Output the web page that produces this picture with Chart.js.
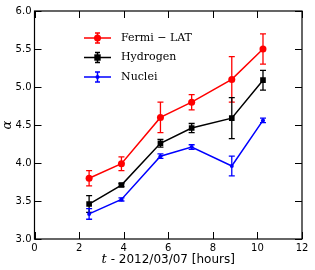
<!DOCTYPE html>
<html>
<head>
<meta charset="utf-8">
<script src="https://cdn.jsdelivr.net/npm/chart.js@4"></script>
<style>
  html, body { margin: 0; padding: 0; background: #fff; }
  #wrap { width: 315px; height: 270px; }
</style>
</head>
<body>
<div id="wrap"><canvas id="chart" width="315" height="270"></canvas></div>
<script>
const times = [2.45, 3.9, 5.65, 7.05, 8.85, 10.25];

const fermi = [3.80, 3.99, 4.60, 4.80, 5.10, 5.50];
const fermiErr = [0.10, 0.09, 0.20, 0.10, 0.30, 0.20];

const hydrogen = [3.46, 3.71, 4.26, 4.46, 4.59, 5.09];
const hydrogenErr = [0.11, 0.02, 0.05, 0.06, 0.27, 0.13];

const nuclei = [3.33, 3.52, 4.09, 4.21, 3.96, 4.56];
const nucleiErr = [0.07, 0.02, 0.03, 0.03, 0.13, 0.03];

const xTicks = [0, 2, 4, 6, 8, 10, 12];
const yTicks = [3.0, 3.5, 4.0, 4.5, 5.0, 5.5, 6.0];

function pts(ys) {
    return times.map((t, i) => ({ x: t, y: ys[i] }));
}

const series = [
    { label: 'Fermi \u2212 LAT', data: fermi, err: fermiErr, color: '#ff0000', style: 'circle', r: 3.5 },
    { label: 'Hydrogen', data: hydrogen, err: hydrogenErr, color: '#000000', style: 'rect', r: 4 },
    { label: 'Nuclei', data: nuclei, err: nucleiErr, color: '#0000ff', style: 'circle', r: 2 }
];

// error bars, inward ticks, legend and axis titles are drawn by hand
const extras = {
    id: 'extras',
    beforeDatasetsDraw(chart) {
        const ctx = chart.ctx;
        const xs = chart.scales.x, ys = chart.scales.y;
        ctx.save();
        series.forEach(s => {
            ctx.strokeStyle = s.color;
            ctx.lineWidth = 1.3;
            s.data.forEach((v, i) => {
                const px = xs.getPixelForValue(times[i]);
                const top = ys.getPixelForValue(v + s.err[i]);
                const bot = ys.getPixelForValue(v - s.err[i]);
                ctx.beginPath();
                ctx.moveTo(px, top); ctx.lineTo(px, bot);
                ctx.moveTo(px - 3, top); ctx.lineTo(px + 3, top);
                ctx.moveTo(px - 3, bot); ctx.lineTo(px + 3, bot);
                ctx.stroke();
            });
        });
        ctx.restore();
    },
    afterDraw(chart) {
        const ctx = chart.ctx;
        const a = chart.chartArea;
        const xs = chart.scales.x, ys = chart.scales.y;
        ctx.save();
        // frame
        ctx.strokeStyle = '#000';
        ctx.lineWidth = 1.2;
        ctx.strokeRect(a.left, a.top, a.right - a.left, a.bottom - a.top);
        // inward ticks
        ctx.lineWidth = 1;
        ctx.beginPath();
        xTicks.forEach(v => {
            const px = Math.round(xs.getPixelForValue(v)) + 0.5;
            ctx.moveTo(px, a.bottom); ctx.lineTo(px, a.bottom - 7);
            ctx.moveTo(px, a.top); ctx.lineTo(px, a.top + 7);
        });
        yTicks.forEach(v => {
            const py = Math.round(ys.getPixelForValue(v)) + 0.5;
            ctx.moveTo(a.left, py); ctx.lineTo(a.left + 7, py);
            ctx.moveTo(a.right, py); ctx.lineTo(a.right - 7, py);
        });
        ctx.stroke();

        // legend
        ctx.font = '11px "DejaVu Serif"';
        ctx.textBaseline = 'middle';
        series.forEach((s, i) => {
            const y = 38 + i * 19.5;
            ctx.strokeStyle = s.color;
            ctx.fillStyle = s.color;
            ctx.lineWidth = 1.5;
            ctx.beginPath();
            ctx.moveTo(84, y); ctx.lineTo(111, y);
            ctx.moveTo(97.5, y - 5); ctx.lineTo(97.5, y + 5);
            ctx.moveTo(95, y - 5); ctx.lineTo(100, y - 5);
            ctx.moveTo(95, y + 5); ctx.lineTo(100, y + 5);
            ctx.stroke();
            ctx.beginPath();
            if (s.style === 'rect') {
                ctx.fillRect(97.5 - s.r * 0.8, y - s.r * 0.8, s.r * 1.6, s.r * 1.6);
            } else {
                ctx.arc(97.5, y, s.r, 0, Math.PI * 2);
                ctx.fill();
            }
            ctx.fillStyle = '#000';
            ctx.textAlign = 'left';
            ctx.fillText(s.label, 121, y);
        });

        // x title: italic t + plain text
        ctx.fillStyle = '#000';
        ctx.textBaseline = 'alphabetic';
        const t1 = 't';
        const t2 = ' - 2012/03/07 [hours]';
        ctx.font = 'italic 13px "DejaVu Serif"';
        const w1 = ctx.measureText(t1).width;
        ctx.font = '12px "DejaVu Sans"';
        const w2 = ctx.measureText(t2).width;
        const cx = (a.left + a.right) / 2;
        let x0 = cx - (w1 + w2) / 2;
        ctx.textAlign = 'left';
        ctx.font = 'italic 13px "DejaVu Serif"';
        ctx.fillText(t1, x0, 263);
        ctx.font = '12px "DejaVu Sans"';
        ctx.fillText(t2, x0 + w1, 263);

        // y title
        ctx.translate(8, (a.top + a.bottom) / 2);
        ctx.rotate(-Math.PI / 2);
        ctx.textAlign = 'center';
        ctx.textBaseline = 'middle';
        ctx.font = 'italic 13px "DejaVu Serif"';
        ctx.fillText('\u03b1', 0, 0);
        ctx.restore();
    }
};

chart = new Chart(document.getElementById('chart'), {
    type: 'scatter',
    data: {
        datasets: series.map(s => ({
            label: s.label,
            data: pts(s.data),
            showLine: true,
            borderColor: s.color,
            backgroundColor: s.color,
            borderWidth: 1.5,
            pointStyle: s.style,
            pointRadius: s.r,
            pointBorderWidth: 0,
            tension: 0
        }))
    },
    options: {
        responsive: false,
        animation: false,
        layout: { padding: { top: 11, right: 13, left: 0, bottom: 0 } },
        plugins: { legend: { display: false }, tooltip: { enabled: false } },
        scales: {
            x: {
                type: 'linear',
                min: 0, max: 12,
                afterBuildTicks: s => { s.ticks = xTicks.map(v => ({ value: v })); },
                afterFit: s => { s.height = 31; },
                grid: { display: false, drawTicks: false },
                border: { display: false },
                ticks: {
                    padding: 3,
                    maxRotation: 0,
                    color: '#000',
                    font: { family: 'DejaVu Sans', size: 10 }
                }
            },
            y: {
                min: 3, max: 6,
                afterBuildTicks: s => { s.ticks = yTicks.map(v => ({ value: v })); },
                afterFit: s => { s.width = 34.5; },
                grid: { display: false, drawTicks: false },
                border: { display: false },
                ticks: {
                    padding: 3,
                    color: '#000',
                    font: { family: 'DejaVu Sans', size: 10 },
                    callback: v => v.toFixed(1)
                }
            }
        }
    },
    plugins: [extras]
});
</script>
</body>
</html>
